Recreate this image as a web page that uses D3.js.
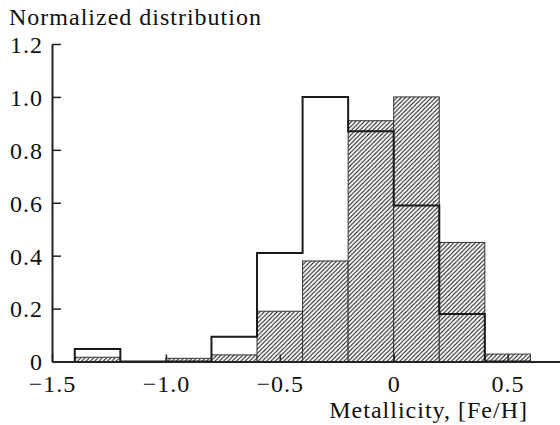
<!DOCTYPE html>
<html>
<head>
<meta charset="utf-8">
<script src="https://cdn.jsdelivr.net/npm/d3@7"></script>
<style>
  body { margin: 0; background: #fff; }
</style>
</head>
<body>
<svg id="chart"></svg>
<script>
// bin left edges, each bin is 0.2 wide
var binStarts = [-1.4, -1.2, -1.0, -0.8, -0.6, -0.4, -0.2, 0.0, 0.2, 0.4];
// open (outline only) histogram
var openValues = [0.047, 0, 0, 0.094, 0.41, 1.0, 0.87, 0.59, 0.18, 0];
// hatched histogram
var hatchValues = [0.016, 0, 0.012, 0.025, 0.19, 0.38, 0.91, 1.0, 0.45, 0.028];
var binWidth = 0.2;

var yTicks = [0, 0.2, 0.4, 0.6, 0.8, 1.0, 1.2];
var yTickLabels = ["0", "0.2", "0.4", "0.6", "0.8", "1.0", "1.2"];
var xTicks = [-1.5, -1.0, -0.5, 0, 0.5];
var xTickLabels = ["\u22121.5", "\u22121.0", "\u22120.5", "0", "0.5"];

var serif = "'Liberation Serif', 'Times New Roman', Times, serif";
var screen = {width: 560, height: 425};

var svg = d3.select("#chart")
    .attr("width", screen.width)
    .attr("height", screen.height);

var xScale = d3.scaleLinear()
    .domain([-1.5, 0.73])
    .range([52, 560]);

var yScale = d3.scaleLinear()
    .domain([0, 1.2])
    .range([361.5, 44]);

// hatch pattern
var defs = svg.append("defs");
var pat = defs.append("pattern")
    .attr("id", "hatch")
    .attr("patternUnits", "userSpaceOnUse")
    .attr("width", 4.3)
    .attr("height", 4.3);
pat.append("rect")
    .attr("width", 4.3)
    .attr("height", 4.3)
    .attr("fill", "#fff");
pat.append("path")
    .attr("d", "M-1.075,1.075 l2.15,-2.15 M0,4.3 l4.3,-4.3 M3.225,5.375 l2.15,-2.15")
    .attr("stroke", "#111")
    .attr("stroke-width", 1.05);

var hatchData = binStarts.map(function(b, i) { return {x0: b, v: hatchValues[i]}; })
    .filter(function(d) { return d.v > 0; });

svg.append("g")
    .selectAll("rect")
    .data(hatchData)
    .enter()
    .append("rect")
    .attr("x", function(d) { return xScale(d.x0); })
    .attr("y", function(d) { return yScale(d.v); })
    .attr("width", function(d) { return xScale(d.x0 + binWidth) - xScale(d.x0); })
    .attr("height", function(d) { return yScale(0) - yScale(d.v); })
    .attr("fill", "url(#hatch)")
    .attr("stroke", "#333")
    .attr("stroke-width", 1);

// open histogram as a step outline
var stepPoints = [];
binStarts.forEach(function(b, i) {
    stepPoints.push([b, openValues[i]]);
});
stepPoints.push([binStarts[binStarts.length - 1] + binWidth, 0]);
stepPoints.unshift([binStarts[0], 0]);

var stepLine = d3.line()
    .x(function(d) { return xScale(d[0]); })
    .y(function(d) { return yScale(d[1]); })
    .curve(d3.curveStepAfter);

svg.append("path")
    .datum(stepPoints)
    .attr("d", stepLine)
    .attr("fill", "none")
    .attr("stroke", "#1a1a1a")
    .attr("stroke-width", 2)
    .attr("stroke-linejoin", "miter");

// axes
var yAxis = d3.axisLeft(yScale)
    .tickValues(yTicks)
    .tickFormat(function(d, i) { return yTickLabels[i]; })
    .tickSizeInner(-9)
    .tickSizeOuter(0)
    .tickPadding(9);

var xAxis = d3.axisBottom(xScale)
    .tickValues(xTicks)
    .tickFormat(function(d, i) { return xTickLabels[i]; })
    .tickSizeInner(-7)
    .tickSizeOuter(0)
    .tickPadding(13);

var gy = svg.append("g")
    .attr("transform", "translate(52,0)")
    .call(yAxis);

var gx = svg.append("g")
    .attr("transform", "translate(0,361.5)")
    .call(xAxis);

[gx, gy].forEach(function(g) {
    g.attr("font-family", null).attr("font-size", null);
    g.select(".domain").attr("stroke", "#222").attr("stroke-width", 2);
    g.selectAll(".tick line").attr("stroke", "#222").attr("stroke-width", 1.5);
    g.selectAll(".tick text")
        .style("font-family", serif)
        .style("font-size", "24px")
        .style("letter-spacing", "1px")
        .attr("fill", "#111");
});
gy.selectAll(".tick text").attr("dy", "0.35em");
gx.selectAll(".tick text").attr("dy", "0.71em");

svg.append("text")
    .attr("x", 9)
    .attr("y", 25)
    .style("font-family", serif)
    .style("font-size", "24px")
    .style("letter-spacing", "1px")
    .attr("fill", "#111")
    .text("Normalized distribution");

svg.append("text")
    .attr("x", 528)
    .attr("y", 418)
    .attr("text-anchor", "end")
    .style("font-family", serif)
    .style("font-size", "24px")
    .style("letter-spacing", "1px")
    .attr("fill", "#111")
    .text("Metallicity, [Fe/H]");
</script>
</body>
</html>
